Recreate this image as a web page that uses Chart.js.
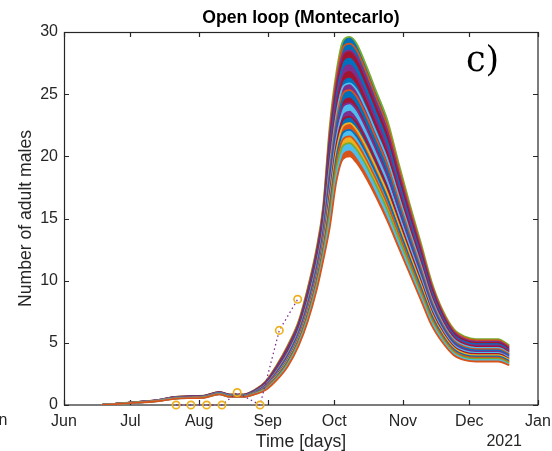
<!DOCTYPE html>
<html><head><meta charset="utf-8">
<script src="https://cdn.jsdelivr.net/npm/chart.js@4/dist/chart.umd.min.js"></script>
<style>html,body{margin:0;padding:0;background:#fff;}canvas{display:block;}</style>
</head><body>
<canvas id="c" width="552" height="451"></canvas>
<script>
// ---- axis definitions ----
const monthDays = [0, 30, 61, 92, 122, 153, 183, 214];            // days since 1 Jun 2020
const monthLabels = ['Jun', 'Jul', 'Aug', 'Sep', 'Oct', 'Nov', 'Dec', 'Jan'];
const yTicks = [0, 5, 10, 15, 20, 25, 30];

// ---- Montecarlo runs (days since 1 Jun), listed from the lowest run to the highest ----
const days = [17,30,42,50,57,63,70,75,81,86,91,96,101,106,110,114,117,120,123,126,129,132,136,141,146,151,156,161,166,171,176,181,186,191,196,201];
const run00 = [0,0.15,0.3,0.5,0.55,0.58,0.85,0.65,0.65,0.85,1.2,2.0,3.1,4.8,6.7,9.2,11.6,14.3,18.0,19.8,20.0,19.5,18.4,16.7,14.8,12.7,10.6,8.5,6.4,5.0,4.0,3.6,3.5,3.5,3.5,3.2];
const run01 = [0,0.155,0.305,0.51,0.56,0.59,0.86,0.66,0.66,0.87,1.24,2.07,3.2,4.91,6.85,9.39,11.85,14.76,18.49,20.33,20.54,20.04,18.91,17.17,15.25,13.08,10.91,8.76,6.6,5.15,4.12,3.71,3.6,3.6,3.6,3.29];
const run02 = [0,0.16,0.31,0.52,0.57,0.6,0.87,0.67,0.67,0.89,1.28,2.13,3.29,5.02,7.0,9.58,12.09,15.21,18.98,20.86,21.07,20.57,19.41,17.64,15.7,13.46,11.22,9.01,6.79,5.29,4.23,3.81,3.7,3.7,3.7,3.38];
const run03 = [0,0.16,0.315,0.525,0.58,0.61,0.88,0.68,0.68,0.91,1.32,2.2,3.39,5.13,7.15,9.77,12.34,15.67,19.47,21.39,21.6,21.1,19.92,18.12,16.15,13.84,11.53,9.27,6.99,5.44,4.35,3.92,3.8,3.8,3.8,3.47];
const run04 = [0,0.16,0.32,0.53,0.59,0.62,0.89,0.69,0.69,0.93,1.36,2.27,3.48,5.24,7.3,9.96,12.58,16.12,19.96,21.91,22.13,21.63,20.42,18.59,16.6,14.21,11.84,9.52,7.18,5.58,4.47,4.02,3.9,3.9,3.9,3.56];
const run05 = [0,0.165,0.325,0.54,0.6,0.63,0.9,0.7,0.7,0.95,1.4,2.34,3.58,5.36,7.45,10.15,12.83,16.58,20.45,22.44,22.67,22.17,20.93,19.06,17.05,14.59,12.16,9.78,7.38,5.73,4.59,4.13,4.0,4.0,4.0,3.65];
const run06 = [0,0.17,0.33,0.55,0.61,0.64,0.92,0.72,0.72,0.97,1.43,2.4,3.67,5.47,7.6,10.33,13.07,17.03,20.93,22.97,23.2,22.7,21.43,19.53,17.5,14.97,12.47,10.03,7.57,5.87,4.7,4.23,4.1,4.1,4.1,3.73];
const run07 = [0,0.17,0.335,0.56,0.62,0.65,0.93,0.73,0.73,0.99,1.47,2.47,3.77,5.58,7.75,10.52,13.32,17.49,21.42,23.5,23.74,23.24,21.94,20.01,17.95,15.35,12.78,10.29,7.77,6.02,4.82,4.34,4.2,4.2,4.2,3.82];
const run08 = [0,0.17,0.34,0.57,0.63,0.66,0.94,0.74,0.74,1.01,1.51,2.53,3.86,5.69,7.9,10.71,13.56,17.94,21.91,24.02,24.27,23.77,22.44,20.48,18.4,15.72,13.09,10.54,7.96,6.16,4.93,4.44,4.3,4.3,4.3,3.91];
const run09 = [0,0.175,0.35,0.575,0.635,0.665,0.95,0.75,0.75,1.03,1.55,2.6,3.95,5.8,8.05,10.9,13.8,18.4,22.4,24.55,24.8,24.3,22.95,20.95,18.85,16.1,13.4,10.8,8.15,6.3,5.05,4.55,4.4,4.4,4.4,4.0];
const run10 = [0,0.18,0.36,0.58,0.64,0.67,0.96,0.76,0.76,1.04,1.59,2.67,4.04,5.91,8.2,11.09,14.04,18.86,22.89,25.08,25.33,24.83,23.46,21.42,19.3,16.48,13.71,11.06,8.34,6.44,5.17,4.66,4.5,4.5,4.5,4.09];
const run11 = [0,0.18,0.365,0.59,0.65,0.68,0.97,0.77,0.77,1.06,1.63,2.74,4.14,6.02,8.35,11.28,14.29,19.32,23.38,25.61,25.87,25.37,23.97,21.9,19.75,16.86,14.02,11.32,8.54,6.59,5.29,4.77,4.6,4.6,4.6,4.18];
const run12 = [0,0.18,0.37,0.6,0.66,0.69,0.98,0.78,0.78,1.08,1.67,2.8,4.23,6.13,8.5,11.47,14.53,19.77,23.87,26.13,26.4,25.9,24.47,22.37,20.2,17.23,14.33,11.57,8.73,6.73,5.4,4.87,4.7,4.7,4.7,4.27];
const run13 = [0,0.185,0.375,0.61,0.67,0.7,0.99,0.79,0.79,1.1,1.71,2.87,4.33,6.25,8.65,11.66,14.78,20.23,24.36,26.66,26.94,26.44,24.98,22.84,20.65,17.61,14.65,11.83,8.93,6.88,5.52,4.98,4.8,4.8,4.8,4.36];
const run14 = [0,0.19,0.38,0.62,0.68,0.71,1.0,0.8,0.8,1.12,1.74,2.93,4.42,6.36,8.8,11.84,15.02,20.68,24.84,27.19,27.47,26.97,25.48,23.31,21.1,17.99,14.96,12.08,9.12,7.02,5.63,5.08,4.9,4.9,4.9,4.44];
const run15 = [0,0.19,0.385,0.625,0.69,0.72,1.02,0.82,0.82,1.14,1.78,3.0,4.52,6.47,8.95,12.03,15.27,21.14,25.33,27.72,28.0,27.5,25.99,23.79,21.55,18.37,15.27,12.34,9.32,7.17,5.75,5.19,5.0,5.0,5.0,4.53];
const run16 = [0,0.19,0.39,0.63,0.7,0.73,1.03,0.83,0.83,1.16,1.82,3.07,4.61,6.58,9.1,12.22,15.51,21.59,25.82,28.24,28.53,28.03,26.49,24.26,22.0,18.74,15.58,12.59,9.51,7.31,5.87,5.29,5.1,5.1,5.1,4.62];
const run17 = [0,0.195,0.395,0.64,0.71,0.74,1.04,0.84,0.84,1.18,1.86,3.14,4.71,6.69,9.25,12.41,15.76,22.05,26.31,28.77,29.07,28.57,27.0,24.73,22.45,19.12,15.89,12.85,9.71,7.46,5.99,5.4,5.2,5.2,5.2,4.71];
const run18 = [0,0.2,0.4,0.65,0.72,0.75,1.05,0.85,0.85,1.2,1.9,3.2,4.8,6.8,9.4,12.6,16.0,22.5,26.8,29.3,29.6,29.1,27.5,25.2,22.9,19.5,16.2,13.1,9.9,7.6,6.1,5.5,5.3,5.3,5.3,4.8];
const runs = [run00, run01, run02, run03, run04, run05, run06, run07, run08, run09, run10, run11, run12, run13, run14, run15, run16, run17, run18];

// ---- observations ----
const obsDays = [50.6, 57.3, 64.4, 71.3, 78.2, 88.5, 97.2, 105.5];
const obsValues = [0, 0, 0, 0, 1, 0, 6, 8.5];

// ---- styling (MATLAB default colour order) ----
const lineColors = ['#D95319', '#4DBEEE', '#77AC30', '#D95319', '#0072BD', '#EDB120', '#A2142F', '#4DBEEE', '#7E2F8E', '#0072BD',
                    '#D95319', '#4DBEEE', '#A2142F', '#7E2F8E', '#0072BD', '#A2142F', '#7E2F8E', '#D95319', '#77AC30'];
const stripeColors = [null, '#D95319', '#4DBEEE', '#EDB120', '#4DBEEE', '#D95319', '#0072BD', '#7E2F8E', '#4DBEEE', '#A2142F',
                      '#0072BD', '#7E2F8E', '#0072BD', '#A2142F', '#7E2F8E', '#0072BD', '#A2142F', '#0072BD', '#0072BD'];
const AX = '#262626';
const SANS = '"Liberation Sans", Arial, Helvetica, sans-serif';

const datasets = [{
  label: 'obs',
  data: obsDays.map((d, i) => ({x: d, y: obsValues[i]})),
  borderColor: '#7E2F8E',
  borderDash: [1.5, 3],
  borderWidth: 1.3,
  pointRadius: 3.7,
  pointBorderWidth: 1.7,
  pointBorderColor: '#EDB120',
  pointBackgroundColor: 'rgba(255,255,255,0)',
  fill: false,
  tension: 0,
  clip: false
}];
runs.forEach((r, j) => {
  datasets.push({
    label: 'run' + j,
    data: days.map((d, i) => ({x: d, y: r[i]})),
    borderColor: lineColors[j],
    backgroundColor: stripeColors[j] || 'rgba(0,0,0,0)',
    borderWidth: 1.8,
    pointRadius: 0,
    cubicInterpolationMode: 'monotone',
    fill: j === 0 ? false : '-1'
  });
});

const boxPlugin = {
  id: 'box',
  beforeDatasetsDraw(chart) {
    const {ctx, chartArea: a, scales: {x, y}} = chart;
    ctx.save();
    ctx.strokeStyle = AX;
    ctx.lineWidth = 1.2;
    ctx.strokeRect(a.left + 0.5, a.top + 0.5, a.right - a.left - 0.5, a.bottom - a.top - 0.5);
    const tl = 5;
    ctx.beginPath();
    monthDays.forEach(v => {
      const px = Math.round(x.getPixelForValue(v)) + 0.5;
      ctx.moveTo(px, a.bottom); ctx.lineTo(px, a.bottom - tl);
      ctx.moveTo(px, a.top); ctx.lineTo(px, a.top + tl);
    });
    yTicks.forEach(v => {
      const py = Math.round(y.getPixelForValue(v)) + 0.5;
      ctx.moveTo(a.left, py); ctx.lineTo(a.left + tl, py);
      ctx.moveTo(a.right, py); ctx.lineTo(a.right - tl, py);
    });
    ctx.stroke();
    ctx.restore();
  },
  afterDraw(chart) {
    const {ctx} = chart;
    ctx.save();
    ctx.fillStyle = AX;
    ctx.font = '16px ' + SANS;
    ctx.textBaseline = 'middle';
    ctx.textAlign = 'right';
    ctx.fillText('2021', 522, 442);
    ctx.fillText('Jan', 7.5, 421);
    ctx.fillStyle = '#000';
    ctx.textAlign = 'left';
    ctx.textBaseline = 'alphabetic';
    ctx.font = '35px "DejaVu Serif", serif';
    ctx.fillText('c)', 466, 70.5);
    ctx.restore();
  }
};

Chart.defaults.font.family = SANS;
new Chart(document.getElementById('c'), {
  type: 'line',
  data: {datasets},
  plugins: [boxPlugin],
  options: {
    responsive: false,
    animation: false,
    devicePixelRatio: 1,
    layout: {padding: {left: 0, right: 14, top: 0, bottom: 0}},
    plugins: {
      legend: {display: false},
      tooltip: {enabled: false},
      filler: {drawTime: 'beforeDatasetsDraw'},
      title: {
        display: true,
        text: 'Open loop (Montecarlo)',
        fullSize: false,
        color: '#000',
        font: {size: 17.6, weight: 'bold', family: SANS, lineHeight: 1.2},
        padding: {top: 8, bottom: 2.88}
      }
    },
    scales: {
      x: {
        type: 'linear',
        min: 0, max: 214,
        afterBuildTicks: s => { s.ticks = monthDays.map(v => ({value: v})); },
        afterFit: s => { s.height = 46; s.paddingLeft = 0; s.paddingRight = 0; },
        grid: {display: false, drawTicks: false},
        border: {display: false},
        ticks: {
          autoSkip: false, maxRotation: 0, padding: 6.5,
          color: AX, font: {size: 16, family: SANS},
          callback: v => monthLabels[monthDays.indexOf(v)]
        },
        title: {display: true, text: 'Time [days]', color: AX, font: {size: 17.6, family: SANS, lineHeight: 1}, padding: {top: 0, bottom: 0}}
      },
      y: {
        min: 0, max: 30,
        afterBuildTicks: s => { s.ticks = yTicks.map(v => ({value: v})); },
        afterFit: s => { s.width = 64; s.paddingTop = 0; s.paddingBottom = 0; },
        grid: {display: false, drawTicks: false},
        border: {display: false},
        ticks: {padding: 6, color: AX, font: {size: 16, family: SANS}},
        title: {display: true, text: 'Number of adult males', color: AX, font: {size: 17.6, family: SANS, lineHeight: 1}, padding: {top: 17, bottom: 0}}
      }
    }
  }
});
</script>
</body></html>
